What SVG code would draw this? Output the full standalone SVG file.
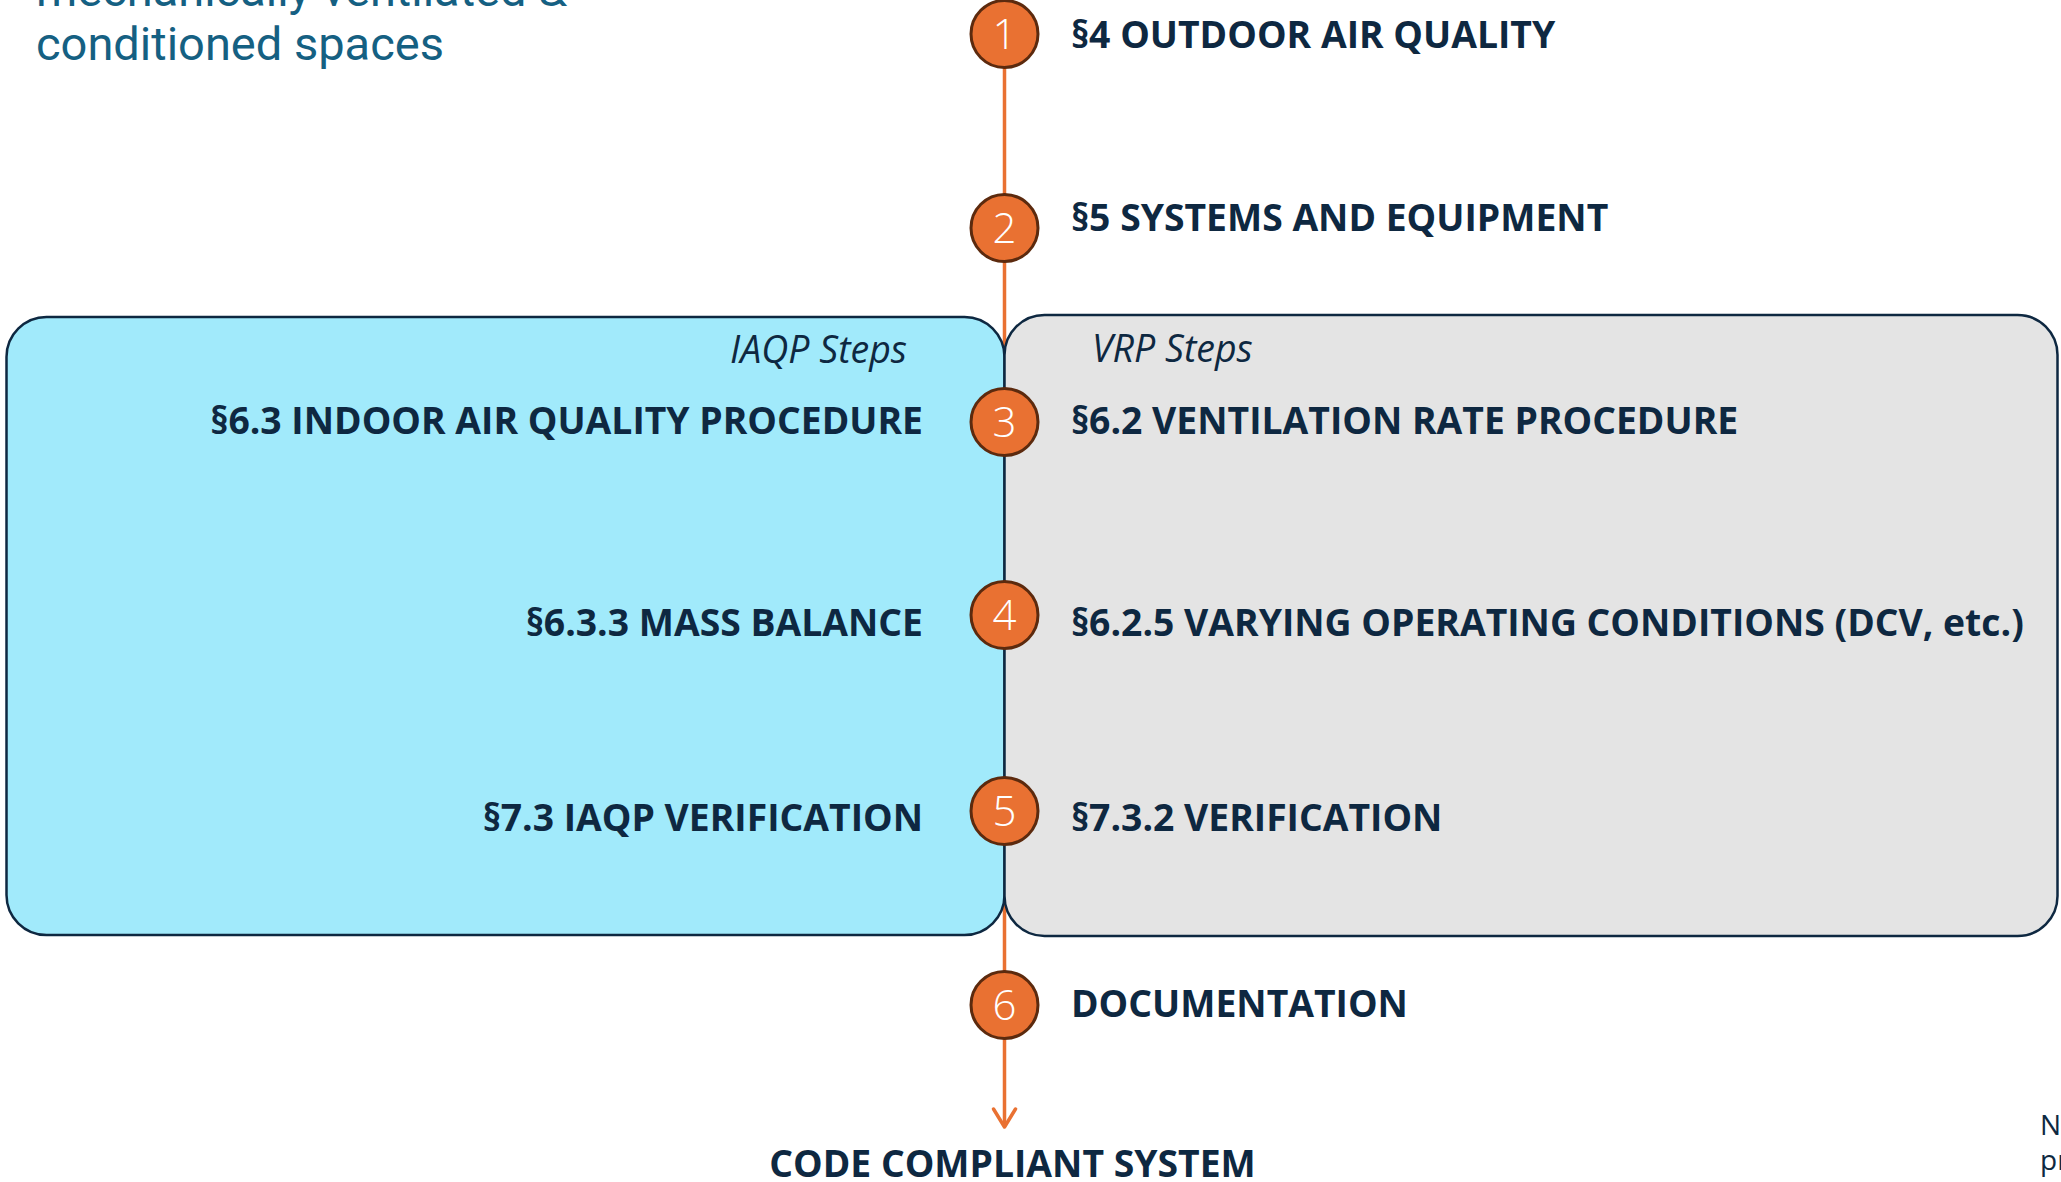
<svg xmlns="http://www.w3.org/2000/svg" width="2061" height="1182" viewBox="0 0 2061 1182">
  <defs>
    <style>
      .lbl { font-family: "Open Sans", "Liberation Sans", sans-serif; font-weight: 700; font-size: 37.3px; fill: #0E2841; }
      .tag { font-family: "Open Sans", "Liberation Sans", sans-serif; font-style: italic; font-size: 37.5px; fill: #0E2841; }
      .num { font-family: "Open Sans", "Liberation Sans", sans-serif; font-weight: 300; font-size: 42px; fill: #FFFFFF; text-anchor: middle; }
      .step { fill: #E97132; stroke: #5C2A0E; stroke-width: 3; }
      .flow { stroke: #E97132; stroke-width: 3.5; fill: none; }
      .panel { stroke: #0E2841; stroke-width: 2.5; }
      .title { font-family: Roboto, "Liberation Sans", sans-serif; font-size: 47px; fill: #156082; }
      .note { font-family: "Open Sans", "Liberation Sans", sans-serif; font-size: 28px; fill: #0E2841; }
    </style>
  </defs>

  <rect width="2061" height="1182" fill="#FFFFFF"/>

  <!-- heading text, top-left -->
  <g id="heading">
    <text class="title" x="36" y="6">mechanically ventilated &amp;</text>
    <text class="title" x="36" y="60">conditioned spaces</text>
  </g>

  <!-- main flow line with open arrowhead -->
  <g id="connectors">
    <path class="flow" d="M1004.5 68 V1124"/>
    <path class="flow" d="M993.5 1109 L1004.5 1127 L1015.5 1109" stroke-linecap="round" stroke-linejoin="round"/>
  </g>

  <!-- procedure panels -->
  <g id="iaqp-panel">
    <rect class="panel" x="6.5" y="317" width="998" height="618" rx="40" ry="40" fill="#A1EAFB"/>
    <text class="tag" x="907" y="363" text-anchor="end">IAQP Steps</text>
    <text class="lbl" x="923" y="434" text-anchor="end">§6.3 INDOOR AIR QUALITY PROCEDURE</text>
    <text class="lbl" x="923" y="636" text-anchor="end">§6.3.3 MASS BALANCE</text>
    <text class="lbl" x="923" y="831" text-anchor="end">§7.3 IAQP VERIFICATION</text>
  </g>

  <g id="vrp-panel">
    <rect class="panel" x="1004.5" y="315" width="1053" height="621" rx="40" ry="40" fill="#E4E4E4"/>
    <text class="tag" x="1092" y="362">VRP Steps</text>
    <text class="lbl" x="1071" y="434">§6.2 VENTILATION RATE PROCEDURE</text>
    <text class="lbl" x="1071" y="636">§6.2.5 VARYING OPERATING CONDITIONS (DCV, etc.)</text>
    <text class="lbl" x="1071" y="831">§7.3.2 VERIFICATION</text>
  </g>

  <!-- numbered steps -->
  <g id="step-1">
    <circle class="step" cx="1004.5" cy="34" r="33.5"/>
    <text class="num" x="1004.5" y="49">1</text>
    <text class="lbl" x="1071" y="48">§4 OUTDOOR AIR QUALITY</text>
  </g>
  <g id="step-2">
    <circle class="step" cx="1004.5" cy="228" r="33.5"/>
    <text class="num" x="1004.5" y="243">2</text>
    <text class="lbl" x="1071" y="231">§5 SYSTEMS AND EQUIPMENT</text>
  </g>
  <g id="step-3">
    <circle class="step" cx="1004.5" cy="422" r="33.5"/>
    <text class="num" x="1004.5" y="437">3</text>
  </g>
  <g id="step-4">
    <circle class="step" cx="1004.5" cy="615" r="33.5"/>
    <text class="num" x="1004.5" y="630">4</text>
  </g>
  <g id="step-5">
    <circle class="step" cx="1004.5" cy="811" r="33.5"/>
    <text class="num" x="1004.5" y="826">5</text>
  </g>
  <g id="step-6">
    <circle class="step" cx="1004.5" cy="1005" r="33.5"/>
    <text class="num" x="1004.5" y="1020">6</text>
    <text class="lbl" x="1071" y="1017">DOCUMENTATION</text>
  </g>

  <g id="result">
    <text class="lbl" x="1012.5" y="1177" text-anchor="middle">CODE COMPLIANT SYSTEM</text>
  </g>

  <!-- note text at the lower right edge -->
  <g id="note">
    <text class="note" x="2040" y="1135">N</text>
    <text class="note" x="2040" y="1170">pr</text>
  </g>
</svg>
